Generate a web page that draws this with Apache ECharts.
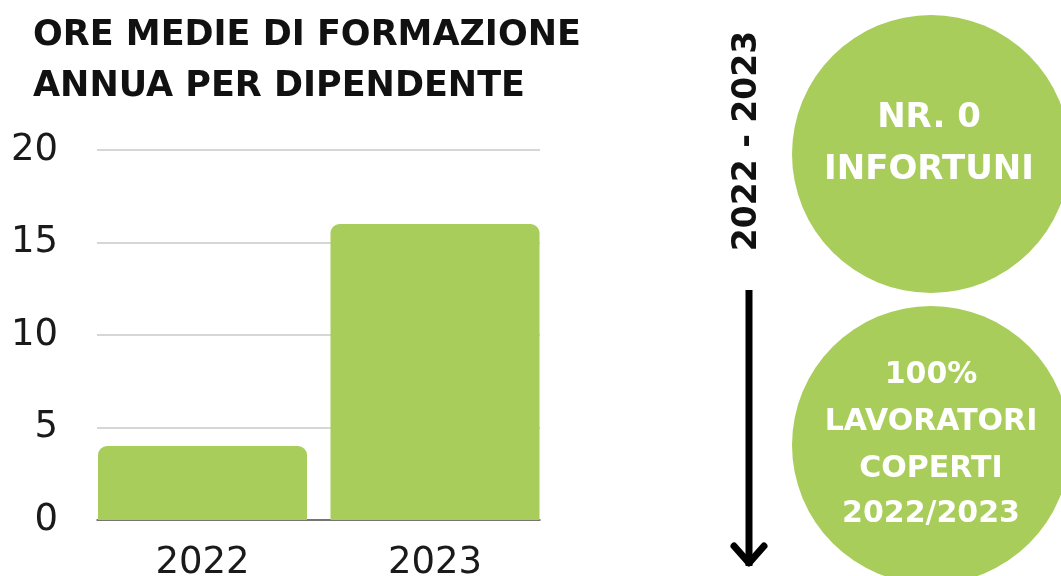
<!DOCTYPE html>
<html>
<head>
<meta charset="utf-8">
<script src="https://cdn.jsdelivr.net/npm/echarts@6/dist/echarts.min.js"></script>
<style>
html,body{margin:0;padding:0;background:#fff;}
#c{width:1061px;height:576px;}
</style>
</head>
<body>
<div id="c"></div>
<script>
const categories = ['2022', '2023'];
const values = [4, 16];
const yMin = 0, yMax = 20, yStep = 5;
const titleLines = ['ORE MEDIE DI FORMAZIONE', 'ANNUA PER DIPENDENTE'];
const periodLabel = '2022 - 2023';
const circle1Lines = ['NR. 0', 'INFORTUNI'];
const circle2Lines = ['100%', 'LAVORATORI', 'COPERTI', '2022/2023'];

const GREEN = '#a8cd5a';
const chart = echarts.init(document.getElementById('c'), null, {renderer: 'canvas'});

function textEl(str, x, y, size, color, extra) {
  return Object.assign({
    type: 'text', x: x, y: y, z: 20,
    style: {text: str, fill: color, font: 'bold ' + size + 'px "DejaVu Sans"', textAlign: 'center', textVerticalAlign: 'middle'}
  }, extra || {});
}

const graphics = [];
// title
graphics.push({type: 'text', x: 33, y: 36, z: 20, style: {text: titleLines[0], fill: '#111', font: 'bold 35px "DejaVu Sans"', textAlign: 'left', textVerticalAlign: 'middle'}});
graphics.push({type: 'text', x: 33, y: 87, z: 20, style: {text: titleLines[1], fill: '#111', font: 'bold 35px "DejaVu Sans"', textAlign: 'left', textVerticalAlign: 'middle'}});
// vertical period label
graphics.push({type: 'text', x: 747, y: 141, rotation: Math.PI / 2, z: 20, style: {text: periodLabel, fill: '#111', font: 'bold 33px "DejaVu Sans"', textAlign: 'center', textVerticalAlign: 'middle'}});
// arrow
graphics.push({type: 'line', z: 20, shape: {x1: 749, y1: 290, x2: 749, y2: 566}, style: {stroke: '#000', lineWidth: 7}});
graphics.push({type: 'polyline', z: 20, shape: {points: [[734, 546], [749, 563], [764, 546]]}, style: {stroke: '#000', lineWidth: 7, lineCap: 'round', lineJoin: 'round', fill: null}});
// circles
graphics.push({type: 'circle', z: 10, shape: {cx: 931, cy: 154, r: 139}, style: {fill: GREEN}});
graphics.push({type: 'circle', z: 10, shape: {cx: 931, cy: 445, r: 139}, style: {fill: GREEN}});
const c1y = [118, 170];
circle1Lines.forEach((t, i) => graphics.push(textEl(t, 929, c1y[i], 34, '#fff')));
const c2y = [375, 422, 469, 514];
circle2Lines.forEach((t, i) => graphics.push(textEl(t, 931, c2y[i], 30, '#fff')));

const option = {
  backgroundColor: '#fff',
  animation: false,
  grid: [
    {left: 86.25, right: 509.75, top: 150, bottom: 56, containLabel: false, outerBoundsMode: 'none'},
    {left: 97, right: 521, top: 150, bottom: 56, containLabel: false, outerBoundsMode: 'none'}
  ],
  xAxis: [
    {type: 'category', gridIndex: 0, data: categories,
     axisLine: {show: false}, axisTick: {show: false},
     axisLabel: {color: '#1a1a1a', fontSize: 37, fontFamily: 'DejaVu Sans', margin: 25}},
    {type: 'category', gridIndex: 1, data: categories,
     axisLine: {show: true, lineStyle: {color: '#555', width: 1.5}}, axisTick: {show: false}, axisLabel: {show: false}}
  ],
  yAxis: [
    {type: 'value', gridIndex: 0, min: yMin, max: yMax, interval: yStep,
     axisLabel: {show: false}, splitLine: {show: false}, axisLine: {show: false}, axisTick: {show: false}},
    {type: 'value', gridIndex: 1, min: yMin, max: yMax, interval: yStep,
     axisLine: {show: false}, axisTick: {show: false},
     axisLabel: {color: '#1a1a1a', fontSize: 37, fontFamily: 'DejaVu Sans', margin: 39},
     splitLine: {lineStyle: {color: '#c8c8c8', width: 1.5}}}
  ],
  series: [{
    type: 'bar', xAxisIndex: 0, yAxisIndex: 0, data: values, barWidth: 209, z: 5,
    itemStyle: {color: GREEN, borderRadius: [9, 9, 0, 0]}
  }],
  graphic: graphics
};
chart.setOption(option);
</script>
</body>
</html>
